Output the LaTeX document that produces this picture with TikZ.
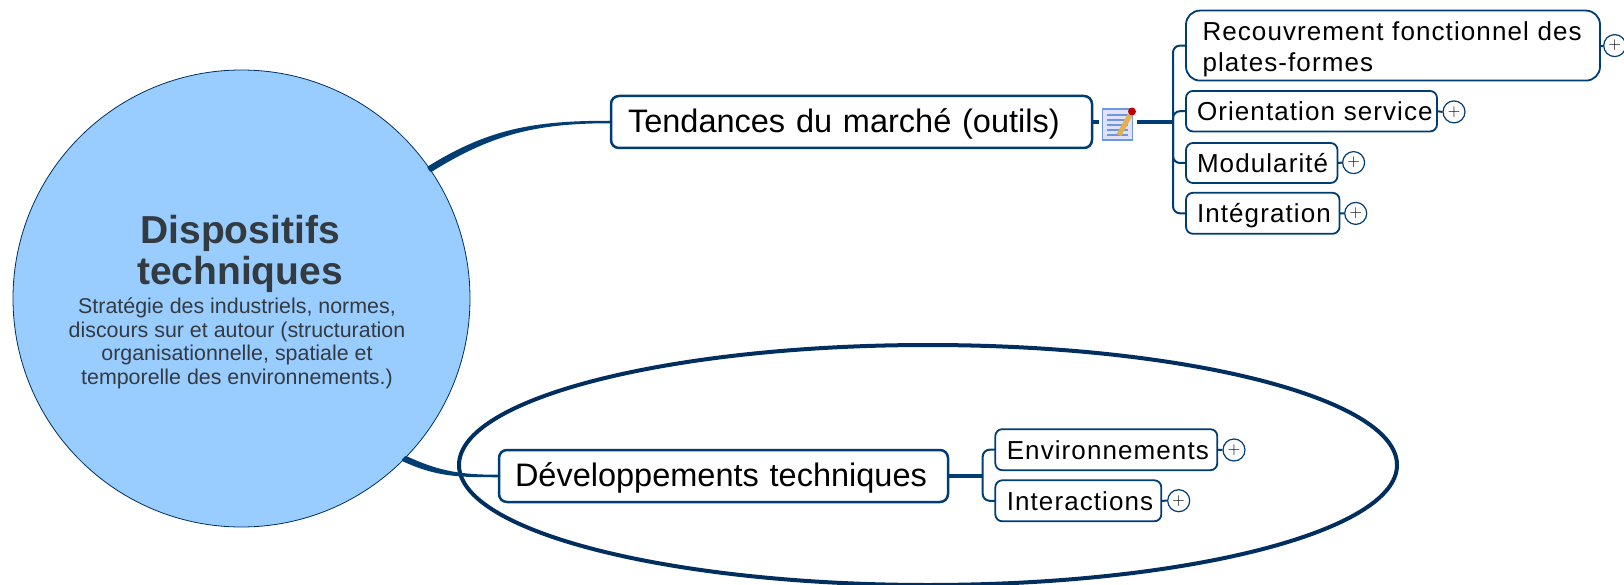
\documentclass[tikz,border=0pt]{standalone}
\usepackage{fontspec}
\setmainfont{Liberation Sans}
\usepackage{xcolor}
\definecolor{navy}{HTML}{003D73}
\definecolor{deepnavy}{HTML}{002F5F}
\definecolor{sky}{HTML}{99CCFF}
\definecolor{slate}{HTML}{333A40}
\definecolor{pencil}{HTML}{E2B04C}
\definecolor{notepage}{HTML}{6F97DC}
\usetikzlibrary{shapes,calc,positioning}
\newfontfamily\spaced[LetterSpace=4.2]{Liberation Sans}
\tikzset{
    x=1pt,y=-1pt,
    topic/.style = {rectangle, draw=navy, fill=white, line width=2.5pt, rounded corners=8pt, anchor=west, align=left, inner ysep=0pt, outer sep=0pt, text height=28pt, text depth=7pt, font=\fontsize{32.5}{38}\selectfont},
    subtopic/.style = {rectangle, draw=navy, fill=white, line width=1.8pt, rounded corners=7pt, anchor=west, align=left, inner xsep=11pt, inner ysep=0pt, outer sep=0pt, text height=19pt, text depth=0pt, font=\fontsize{26}{30.5}\spaced},
    plus/.style = {circle, draw=navy, fill=white, line width=1.2pt, minimum size=22pt, inner sep=0pt, font=\fontsize{17}{17}\selectfont},
    twig/.style = {draw=navy, line width=2pt, rounded corners=7pt},
    trunk/.style = {draw=navy, line width=3.2pt},
    branch/.style = {draw=navy, fill=navy, line width=2.5pt, line join=round}
}

\begin{document}
\begin{tikzpicture}
      \useasboundingbox (0,0) rectangle (1624,585);
      \node[ellipse, draw=deepnavy, line width=4pt, minimum width=938pt, minimum height=240pt, inner sep=0pt] (boundary) at (928,465) {};
      \node[circle, draw=deepnavy, fill=sky, line width=0.8pt, minimum size=457pt, inner sep=0pt, outer sep=0pt] (core) at (241.5,298.5) {};
      \node[align=center, text=slate, font=\fontsize{39}{41.5}\selectfont\bfseries] (title) at (240,254) {Dispositifs\\techniques};
      \node[align=center, text=slate, font=\fontsize{21.4}{23.5}\selectfont] (detail) at (237,343.5) {Stratégie des industriels, normes,\\discours sur et autour (structuration\\organisationnelle, spatiale et\\temporelle des environnements.)};

      \node[topic, inner xsep=17pt, text width=447pt, minimum height=52pt] (tendances) at (611,122) {\mbox{Tendances du marché (outils)}};
      \node[topic, inner xsep=16pt, text width=417pt, minimum height=52pt] (developpements) at (499,476) {\mbox{Développements techniques}};

      \node[subtopic, inner xsep=16.5pt, text width=381pt, minimum height=70pt, rounded corners=14pt, text height=26pt, text depth=36pt] (recouvrement) at (1186,45.6) {Recouvrement fonctionnel des\\plates-formes};
      \node[subtopic, text width=229pt, minimum height=40.5pt] (orientation) at (1186,111.2) {\mbox{Orientation service}};
      \node[subtopic, text width=129.5pt, minimum height=40pt] (modularite) at (1186,163) {\mbox{Modularité}};
      \node[subtopic, text width=131.5pt, minimum height=41pt] (integration) at (1186,213.3) {\mbox{Intégration}};
      \node[subtopic, inner xsep=11.5pt, text width=199pt, minimum height=41pt] (environnements) at (995.3,449.7) {\mbox{Environnements}};
      \node[subtopic, inner xsep=11.5pt, text width=143pt, minimum height=41pt] (interactions) at (995.3,500.8) {\mbox{Interactions}};

      \node[plus] (plusA) at (1614.7,45.6) {$+$};
      \node[plus] (plusB) at (1454,111.9) {$+$};
      \node[plus] (plusC) at (1353.6,162.6) {$+$};
      \node[plus] (plusD) at (1355.7,213.4) {$+$};
      \node[plus] (plusE) at (1234,450) {$+$};
      \node[plus] (plusF) at (1178.7,500.7) {$+$};

      % note icon
      \node[rectangle, draw=notepage, fill=blue!12, line width=1.5pt, minimum width=30pt, minimum height=31pt, inner sep=0pt, outer sep=4pt] (notes) at (1117.5,124.5) {};
      \foreach \y in {115,120,125,130,135} {
        \draw[notepage, line width=1.4pt] (1107,\y) -- (1128,\y);
      }
      \draw[pencil, line width=5pt] (1119,135) -- (1130,115);
      \fill[red!75!black] (1132,111.5) circle (4pt);

      \coordinate (busA) at (1173,122);
      \coordinate (busB) at (982.7,476);

      \path[trunk] (tendances.east) edge (notes.west |- tendances.east);
      \path[trunk] (notes.east |- busA) edge (busA);
      \path[trunk] (developpements.east) edge (busB);

      \draw[twig] (recouvrement.west) -| (busA);
      \draw[twig] (orientation.west) -| (busA);
      \draw[twig] (modularite.west) -| (busA);
      \draw[twig] (integration.west) -| (busA);
      \draw[twig] (environnements.west) -| (busB);
      \draw[twig] (interactions.west) -| (busB);

      \draw[branch] (core.35.4) to[out=32,in=180] (tendances.west) to[out=180,in=32] (core.34.4) -- cycle;
      \draw[branch] (core.315) to[out=-25,in=180] (developpements.west) to[out=180,in=-25] (core.316.2) -- cycle;

      \foreach \from/\to in {recouvrement/plusA,orientation/plusB,modularite/plusC,integration/plusD,environnements/plusE,interactions/plusF} {
        \path[twig] (\from.east) edge (\to.west);
      }
    \end{tikzpicture}
\end{document}
